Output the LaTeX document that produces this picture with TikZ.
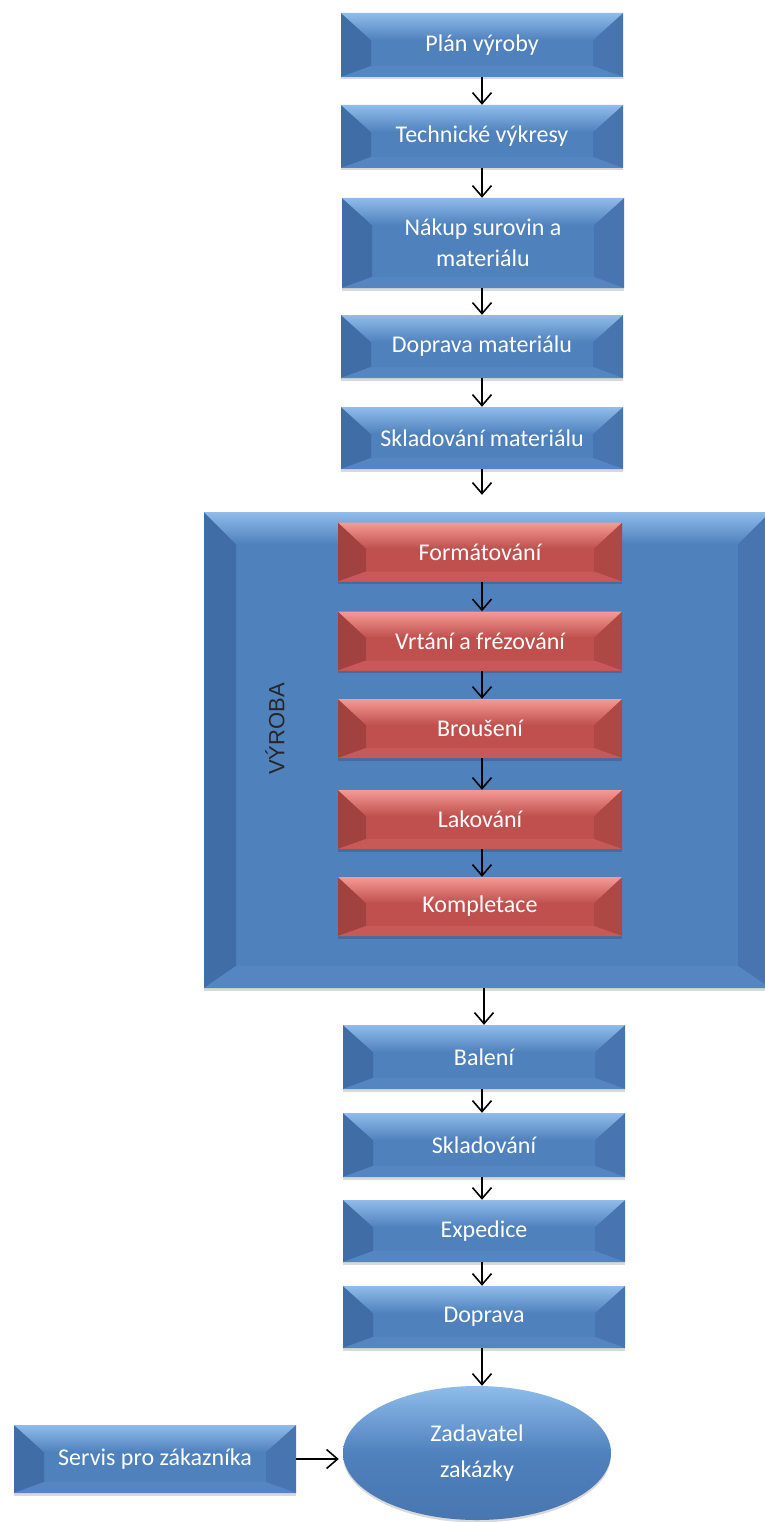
\documentclass[tikz,border=0pt]{standalone}
\usepackage{fontspec}
\setmainfont{Carlito}
\newfontfamily\arialf{Liberation Sans}
\usetikzlibrary{arrows.meta,shadows,shapes.geometric}
\definecolor{bbase}{HTML}{4F81BD}
\definecolor{blight}{HTML}{8FBCEA}
\definecolor{bdark}{HTML}{416DA6}
\definecolor{bright}{HTML}{4875AF}
\definecolor{bbot}{HTML}{5586C1}
\definecolor{rbase}{HTML}{C0504D}
\definecolor{rlight}{HTML}{F59A96}
\definecolor{rdark}{HTML}{A14240}
\definecolor{rright}{HTML}{AE4845}
\definecolor{rbot}{HTML}{C75956}
\definecolor{elltop}{HTML}{8EBDEB}
\definecolor{ellbot}{HTML}{4876B0}
\tikzset{
  bevel/.style n args={8}{%
    fill=#1, draw=none,
    path picture={%
      \fill[#3] (path picture bounding box.north west)
        -- ([xshift=#6,yshift=-#7]path picture bounding box.north west)
        -- ([xshift=#6,yshift=#8]path picture bounding box.south west)
        -- (path picture bounding box.south west) -- cycle;
      \fill[#4] (path picture bounding box.north east)
        -- ([xshift=-#6,yshift=-#7]path picture bounding box.north east)
        -- ([xshift=-#6,yshift=#8]path picture bounding box.south east)
        -- (path picture bounding box.south east) -- cycle;
      \fill[#5] (path picture bounding box.south west)
        -- ([xshift=#6,yshift=#8]path picture bounding box.south west)
        -- ([xshift=-#6,yshift=#8]path picture bounding box.south east)
        -- (path picture bounding box.south east) -- cycle;
      \shade[top color=#2, bottom color=#1] (path picture bounding box.north west)
        -- (path picture bounding box.north east)
        -- ([xshift=-#6,yshift=-#7]path picture bounding box.north east)
        -- ([xshift=#6,yshift=-#7]path picture bounding box.north west) -- cycle;
    }},
  shad/.style={drop shadow={shadow xshift=0pt, shadow yshift=-2.5pt, opacity=0.15, fill=black}},
  txt/.style={text=white, font=\fontsize{24}{31}\selectfont, align=center, inner sep=0pt},
  bluebox/.style={shad, bevel={bbase}{blight}{bdark}{bright}{bbot}{30pt}{27pt}{11pt},
    txt, minimum width=282pt},
  redbox/.style={shad, bevel={rbase}{rlight}{rdark}{rright}{rbot}{28pt}{26pt}{10pt},
    txt, minimum width=284pt, minimum height=59pt},
  bigbox/.style={shad, bevel={bbase}{blight}{bdark}{bright}{bbot}{32pt}{32pt}{22pt},
    minimum width=566pt, minimum height=476pt, inner sep=0pt},
  arr/.style={draw=black, line width=1.6pt, -{Straight Barb[length=11pt,width=19pt,line width=1.6pt]}},
}
\begin{document}
\begin{tikzpicture}[x=1pt,y=-1pt]
\fill[white] (0,0) rectangle (765,1522);
\useasboundingbox (0,0) rectangle (765,1522);

\node[bluebox, minimum height=64pt] (plan) at (482,45) {Plán výroby};
\node[bluebox, minimum height=63pt] (tech) at (482,136.5) {Technické výkresy};
\node[bluebox, minimum height=90pt] (nakup) at (483,243) {Nákup surovin a\\materiálu};
\node[bluebox, minimum height=63pt] (dopmat) at (482,346.5) {Doprava materiálu};
\node[bluebox, minimum height=62pt] (sklmat) at (482,438) {Skladování materiálu};

\node[bigbox] (vyroba) at (487,750) {};
\node[rotate=90, font=\arialf\fontsize{22}{26}\selectfont, text=black!85, inner sep=0pt] (vyrlabel) at (275,729) {VÝROBA};

\node[redbox] (form) at (480,552) {Formátování};
\node[redbox] (vrt) at (480,641) {Vrtání a frézování};
\node[redbox] (brous) at (480,728.5) {Broušení};
\node[redbox] (lak) at (480,819.5) {Lakování};
\node[redbox] (kompl) at (480,906.5) {Kompletace};

\node[bluebox, minimum height=64pt] (baleni) at (484,1057) {Balení};
\node[bluebox, minimum height=64pt] (skl) at (484,1145) {Skladování};
\node[bluebox, minimum height=62pt] (exped) at (484,1231) {Expedice};
\node[bluebox, minimum height=62pt] (doprava) at (484,1317) {Doprava};

\node[bluebox, minimum height=68pt] (servis) at (155,1459) {Servis pro zákazníka};
\node[ellipse, shad, top color=elltop, bottom color=ellbot, middle color=bbase,
      minimum width=268pt, minimum height=134pt, txt,
      font=\fontsize{24}{36}\selectfont] (zad) at (477,1453) {Zadavatel\\zakázky};

\draw[arr] (plan) -- (tech);
\draw[arr] (tech.south) -- (tech.south |- nakup.north);
\draw[arr] (dopmat.north |- nakup.south) -- (dopmat.north);
\draw[arr] (dopmat) -- (sklmat);
\draw[arr, shorten >=17pt] (sklmat.south) -- (sklmat.south |- vyroba.north);
\draw[arr] (form.south -| sklmat.south) -- (vrt.north -| sklmat.south);
\draw[arr] (vrt.south -| sklmat.south) -- (brous.north -| sklmat.south);
\draw[arr] (brous.south -| sklmat.south) -- (lak.north -| sklmat.south);
\draw[arr] (lak.south -| sklmat.south) -- (kompl.north -| sklmat.south);
\draw[arr] (baleni.north |- vyroba.south) -- (baleni.north);
\draw[arr] (baleni.south -| sklmat.south) -- (skl.north -| sklmat.south);
\draw[arr] (skl.south -| sklmat.south) -- (exped.north -| sklmat.south);
\draw[arr] (exped.south -| sklmat.south) -- (doprava.north -| sklmat.south);
\draw[arr] (doprava.south -| sklmat.south) -- (zad.north -| sklmat.south);
\draw[arr, shorten >=4pt] (servis.east) -- (servis.east -| zad.west);
\end{tikzpicture}
\end{document}
